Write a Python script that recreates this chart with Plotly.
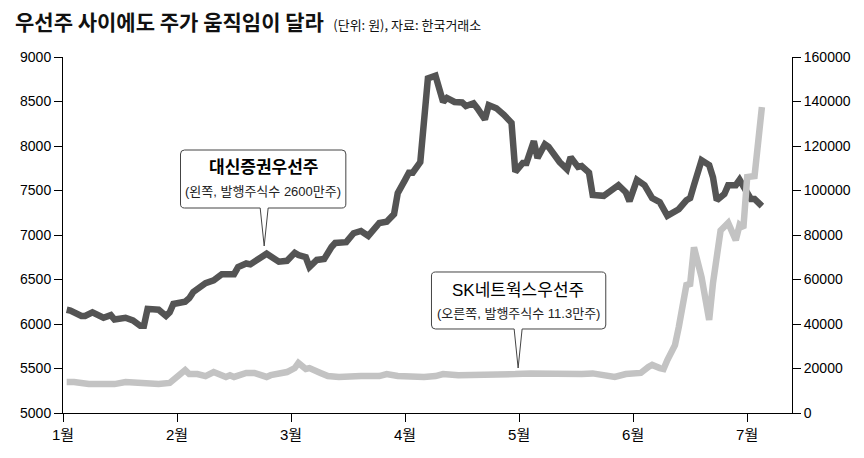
import plotly.graph_objects as go

# 대신증권우선주 (왼쪽 축, 원)
daishin_dates = [
    "2015-01-02", "2015-01-03", "2015-01-06", "2015-01-07", "2015-01-09", "2015-01-12",
    "2015-01-14", "2015-01-15", "2015-01-18", "2015-01-20", "2015-01-22", "2015-01-23",
    "2015-01-24", "2015-01-27", "2015-01-29", "2015-01-30", "2015-01-31",
    "2015-02-02", "2015-02-03", "2015-02-04", "2015-02-05", "2015-02-08", "2015-02-10",
    "2015-02-12", "2015-02-15", "2015-02-16", "2015-02-18", "2015-02-19", "2015-02-21",
    "2015-02-23", "2015-02-26", "2015-02-28",
    "2015-03-02", "2015-03-03", "2015-03-05", "2015-03-06", "2015-03-08", "2015-03-10",
    "2015-03-12", "2015-03-13", "2015-03-16", "2015-03-18", "2015-03-20", "2015-03-22",
    "2015-03-25", "2015-03-27", "2015-03-29", "2015-03-30",
    "2015-04-01", "2015-04-02", "2015-04-03", "2015-04-05", "2015-04-07", "2015-04-09",
    "2015-04-11", "2015-04-12", "2015-04-14", "2015-04-16", "2015-04-17", "2015-04-19",
    "2015-04-20", "2015-04-22", "2015-04-23", "2015-04-25", "2015-04-27", "2015-04-29",
    "2015-04-30",
    "2015-05-02", "2015-05-03", "2015-05-05", "2015-05-06", "2015-05-08", "2015-05-09",
    "2015-05-12", "2015-05-14", "2015-05-15", "2015-05-17", "2015-05-18", "2015-05-20",
    "2015-05-21", "2015-05-24", "2015-05-26", "2015-05-28", "2015-05-30", "2015-05-31",
    "2015-06-02", "2015-06-04", "2015-06-06", "2015-06-08", "2015-06-10", "2015-06-12",
    "2015-06-13", "2015-06-15", "2015-06-16", "2015-06-17", "2015-06-19", "2015-06-21",
    "2015-06-22", "2015-06-23", "2015-06-25", "2015-06-26", "2015-06-28", "2015-06-29",
    "2015-07-01", "2015-07-02", "2015-07-03", "2015-07-05",
]
daishin_price = [
    6160, 6150, 6090, 6090, 6130, 6070,
    6100, 6050, 6070, 6040, 5980, 5980,
    6170, 6160, 6090, 6130, 6225,
    6250, 6250, 6290, 6360, 6460, 6490,
    6560, 6560, 6640, 6680, 6670, 6740,
    6790, 6700, 6710,
    6800, 6775, 6750, 6640, 6720, 6730,
    6865, 6910, 6920, 7020, 7045, 6990,
    7135, 7150, 7235, 7470,
    7620, 7700, 7700, 7820, 8760, 8790,
    8495, 8540, 8495, 8490, 8450, 8480,
    8425, 8300, 8460, 8425, 8350, 8260,
    7710,
    7810, 7810, 8055, 7865, 8020, 7990,
    7820, 7740, 7875, 7765, 7775, 7700,
    7450, 7440, 7505, 7560, 7480, 7380,
    7620, 7560, 7415, 7370, 7215, 7280,
    7290, 7390, 7415, 7560, 7840, 7785,
    7650, 7390, 7460, 7560, 7560, 7620,
    7450, 7405, 7405, 7325,
]

# SK네트웍스우선주 (오른쪽 축, 원)
sk_dates = [
    "2015-01-02", "2015-01-04", "2015-01-08", "2015-01-15", "2015-01-18", "2015-01-21",
    "2015-01-27", "2015-01-30", "2015-01-31",
    "2015-02-02", "2015-02-03", "2015-02-04", "2015-02-06", "2015-02-08", "2015-02-10",
    "2015-02-13", "2015-02-14", "2015-02-15", "2015-02-18", "2015-02-20", "2015-02-23",
    "2015-02-24", "2015-02-26", "2015-02-28",
    "2015-03-02", "2015-03-03", "2015-03-05", "2015-03-06", "2015-03-09", "2015-03-11",
    "2015-03-14", "2015-03-17", "2015-03-20", "2015-03-25", "2015-03-27", "2015-03-30",
    "2015-04-02", "2015-04-06", "2015-04-09", "2015-04-11", "2015-04-15", "2015-04-18",
    "2015-04-21", "2015-04-25", "2015-04-30",
    "2015-05-04", "2015-05-09", "2015-05-13", "2015-05-18", "2015-05-21", "2015-05-24",
    "2015-05-27", "2015-05-30",
    "2015-06-02", "2015-06-03", "2015-06-05", "2015-06-06", "2015-06-08", "2015-06-09",
    "2015-06-10", "2015-06-12", "2015-06-13", "2015-06-15", "2015-06-16", "2015-06-17",
    "2015-06-19", "2015-06-21", "2015-06-22", "2015-06-24", "2015-06-26", "2015-06-28",
    "2015-06-29", "2015-06-30",
    "2015-07-01", "2015-07-03", "2015-07-05",
]
sk_price = [
    13900, 13900, 13000, 13000, 13900, 13500,
    13000, 13500, 14800,
    17000, 19300, 17500, 17500, 16600, 18400,
    16200, 17000, 16200, 18000, 18000, 16200,
    17000, 17500, 18400,
    20200, 22500, 19800, 20200, 18000, 16600,
    16200, 16600, 16600, 16600, 17500, 16600,
    16200, 16200, 16600, 17500, 17000, 17000,
    17500, 17500, 17500,
    17800, 17500, 17800, 17500, 17800, 17000,
    16200, 17500,
    17500, 18000, 20700, 21600, 20200, 19800,
    23800, 30500, 38600, 57500, 58000, 74500,
    61000, 41800, 58400, 82000, 85400, 77700,
    84500, 83100,
    106000, 106500, 137500,
]

month_labels = ["1월", "2월", "3월", "4월", "5월", "6월", "7월"]

DAYS = {1: 31, 2: 28, 3: 31, 4: 30, 5: 31, 6: 30, 7: 31}


def month_pos(d):
    # 월 간격이 같은 축: 1월 1일 = 0, 2월 1일 = 1 ...
    m, day = int(d[5:7]), int(d[8:10])
    return (m - 1) + (day - 1) / DAYS[m]


# 페이지 body 여백(8px)만큼 당겨서 배치
OFF = 8
FW, FH = 864 - OFF, 458 - OFF
# 플롯 영역 (화면 픽셀 기준)
L, T, W, H = 60, 57, 732, 356
FONT = "Liberation Sans, Arial, Noto Sans CJK KR, sans-serif"
KFONT = "Noto Sans CJK KR, sans-serif"


def pp(x, y):
    return (x - L) / W, (T + H - y) / H


def callout_path(x0, y0, x1, y1, tx, ty, r=4, half=4):
    pts = [
        ("M", x0 + r, y0), ("L", x1 - r, y0), ("Q", x1, y0, x1, y0 + r),
        ("L", x1, y1 - r), ("Q", x1, y1, x1 - r, y1),
        ("L", tx + half, y1), ("L", tx, ty), ("L", tx - half, y1),
        ("L", x0 + r, y1), ("Q", x0, y1, x0, y1 - r),
        ("L", x0, y0 + r), ("Q", x0, y0, x0 + r, y0),
    ]
    parts = []
    for p in pts:
        cmd, coords = p[0], p[1:]
        xy = []
        for i in range(0, len(coords), 2):
            a, b = pp(coords[i], coords[i + 1])
            xy.append(f"{a:.5f},{b:.5f}")
        parts.append(cmd + " " + " ".join(xy))
    return " ".join(parts) + " Z"


fig = go.Figure()

fig.add_trace(go.Scatter(
    x=[month_pos(d) for d in sk_dates],
    y=sk_price,
    mode="lines",
    line=dict(color="#c3c3c3", width=6.5),
    yaxis="y2",
    name="SK네트웍스우선주",
))

fig.add_trace(go.Scatter(
    x=[month_pos(d) for d in daishin_dates],
    y=daishin_price,
    mode="lines",
    line=dict(color="#545454", width=6.5),
    yaxis="y",
    name="대신증권우선주",
))

axis_style = dict(
    showline=True, linecolor="black", linewidth=1,
    ticks="outside", ticklen=8, tickcolor="black", tickwidth=1,
    showgrid=False, zeroline=False,
    tickfont=dict(family=FONT, size=14, color="black"),
)

fig.update_layout(
    width=FW,
    height=FH,
    margin=dict(l=L - OFF, r=864 - L - W, t=T - OFF, b=458 - T - H),
    plot_bgcolor="white",
    paper_bgcolor="white",
    showlegend=False,
    xaxis=dict(
        range=[0, W / 114.5],
        tickvals=list(range(len(month_labels))),
        ticktext=month_labels,
        **{**axis_style, "tickfont": dict(family=FONT, size=15, color="black")},
    ),
    yaxis=dict(range=[5000, 9000], dtick=500, tickformat="d", **axis_style),
    yaxis2=dict(
        range=[0, 160000], dtick=20000, tickformat="d",
        overlaying="y", side="right", **axis_style,
    ),
    title=dict(
        text="<b>우선주 사이에도 주가 움직임이 달라</b>&nbsp;&nbsp;"
             "<span style='font-size:13px'>(단위: 원), 자료: 한국거래소</span>",
        font=dict(family=KFONT, size=21, color="#111111"),
        xref="container", yref="container",
        x=(15 - OFF) / FW, xanchor="left",
        y=1 - (23 - OFF) / FH, yanchor="middle",
    ),
)

# 말풍선
boxes = [
    dict(box=(178, 150, 344, 208), tip=(262, 246),
         title="대신증권우선주", bold=True, ty=167,
         sub="(왼쪽, 발행주식수 2600만주)", sy=191, cx=261),
    dict(box=(430, 272, 605, 329), tip=(517, 368),
         title="SK네트웍스우선주", bold=False, ty=290,
         sub="(오른쪽, 발행주식수 11.3만주)", sy=313, cx=517),
]
for b in boxes:
    x0, y0, x1, y1 = b["box"]
    fig.add_shape(
        type="path",
        path=callout_path(x0, y0, x1, y1, *b["tip"]),
        xref="paper", yref="paper",
        fillcolor="white",
        line=dict(color="#444444", width=1),
    )
    t = f"<b>{b['title']}</b>" if b["bold"] else b["title"]
    ax, ay = pp(b["cx"], b["ty"])
    fig.add_annotation(
        x=ax, y=ay, xref="paper", yref="paper", text=t, showarrow=False,
        xanchor="center", yanchor="middle",
        font=dict(family=FONT, size=17, color="black"),
    )
    ax, ay = pp(b["cx"], b["sy"])
    fig.add_annotation(
        x=ax, y=ay, xref="paper", yref="paper", text=b["sub"], showarrow=False,
        xanchor="center", yanchor="middle",
        font=dict(family=FONT, size=13, color="#222222"),
    )

fig.write_html("out.html")
